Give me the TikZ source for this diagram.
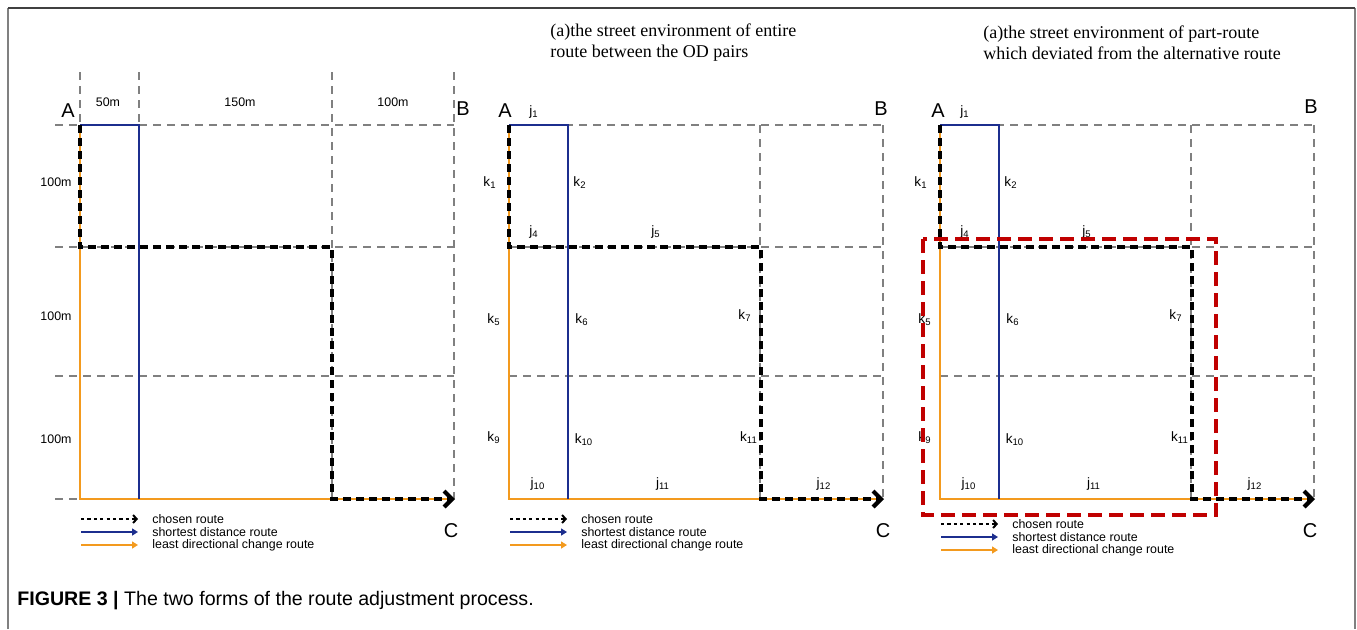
\documentclass[tikz,border=0pt]{standalone}
\usepackage{fontspec}
\setmainfont{Liberation Serif}
\setsansfont{Liberation Sans}
\usetikzlibrary{arrows.meta}

\definecolor{routeblue}{HTML}{1C2E8E}
\definecolor{routeorange}{HTML}{F39A1E}
\definecolor{gridgrey}{HTML}{808080}
\definecolor{boxred}{HTML}{C00000}

\tikzset{
  gridline/.style={gridgrey, line width=0.55pt, dash pattern=on 4pt off 3pt},
  shortest/.style={routeblue, line width=1.1pt},
  leastturn/.style={routeorange, line width=1.4pt},
  chosen/.style={black, line width=2.1pt, dash pattern=on 4pt off 2.5pt},
  lbl/.style={font=\sffamily\fontsize{6.2}{7}\selectfont, inner sep=0pt},
  street/.style={font=\sffamily\fontsize{6.8}{8}\selectfont, inner sep=0pt},
  corner/.style={font=\sffamily\fontsize{10}{12}\selectfont, inner sep=0pt},
  ttl/.style={font=\fontsize{9}{10.5}\selectfont, align=left, anchor=west, inner sep=0pt},
}

\begin{document}
\begin{tikzpicture}[x=0.5pt,y=-0.5pt]
  \useasboundingbox (0,0) rectangle (1357,629);
  % frame
  \draw[gridgrey, line width=1pt] (8,629) -- (8,8) (1355,8) -- (1355,629);
  \draw[black!75, line width=1pt] (8,8) -- (1355,8);

  % titles
  \node[ttl] (ttl2) at (550,42.5) {(a)the street environment of entire\\route between the OD pairs};
  \node[ttl] (ttl3) at (983,42.5) {(a)the street environment of part-route\\which deviated from the alternative route};

  % panel 1 grid
  \draw[gridline] (55,125) -- (454,125);
  \draw[gridline] (55,247) -- (454,247);
  \draw[gridline] (55,376) -- (454,376);
  \draw[gridline] (55,499) -- (80,499);
  \draw[gridline] (80,72) -- (80,125);
  \draw[gridline] (139,72) -- (139,125);
  \draw[gridline] (332,72) -- (332,499);
  \draw[gridline] (454,72) -- (454,499);
  \node[lbl] (d50) at (108,102) {50m};
  \node[lbl] (d150) at (240,102) {150m};
  \node[lbl] (d100) at (393,102) {100m};
  \node[lbl] (h1) at (56,182) {100m};
  \node[lbl] (h2) at (56,316) {100m};
  \node[lbl] (h3) at (56,439) {100m};

  % panels 2 and 3 grid and street labels
  \foreach \p/\dx in {2/429,3/860} {
    \begin{scope}[shift={(\dx,0)}]
      \draw[gridline] (80,125) -- (454,125);
      \draw[gridline] (80,247) -- (454,247);
      \draw[gridline] (80,376) -- (454,376);
      \draw[gridline] (331,125) -- (331,499);
      \draw[gridline] (454,125) -- (454,499);
      \foreach \l/\s/\x/\y in {j/1/105/112, k/1/61/183, k/2/151/183, j/4/105/232,
          j/5/227/232, k/5/65/320, k/6/153/320, k/7/316/316, k/9/65/438,
          k/10/155/440, k/11/320/438, j/10/109/484, j/11/234/484, j/12/395/484}
        \node[street] (\l\s-\p) at (\x,\y) {\l\textsubscript{\s}};
    \end{scope}
  }

  % routes and legend
  \foreach \p/\dx/\dy in {1/0/0,2/429/0,3/860/5} {
    \begin{scope}[shift={(\dx,0)}]
      \draw[leastturn] (80,125) -- (80,499) -- (452,499);
      \draw[shortest] (80,125) -- (139,125) -- (139,499);
      \draw[chosen, -{Straight Barb[length=4pt,width=8pt]}] (80,125) -- (80,247) -- (332,247) -- (332,499) -- (455,499);
      \coordinate (ka\p) at (81,519+\dy);
      \coordinate (kb\p) at (81,532+\dy);
      \coordinate (kc\p) at (81,545+\dy);
      \node[lbl, anchor=west] (ta\p) at (152,519+\dy) {chosen route};
      \node[lbl, anchor=west] (tb\p) at (152,532+\dy) {shortest distance route};
      \node[lbl, anchor=west] (tc\p) at (152,545+\dy) {least directional change route};
      \draw[black, line width=1pt, dash pattern=on 1.6pt off 1.6pt, -{Straight Barb[length=1.8pt,width=4pt]}] (ka\p) -- ++(57,0);
      \draw[routeblue, line width=1pt, -{Triangle[length=3pt,width=3.5pt]}] (kb\p) -- ++(57,0);
      \draw[routeorange, line width=1pt, -{Triangle[length=3pt,width=3.5pt]}] (kc\p) -- ++(57,0);
    \end{scope}
  }

  % deviated part of the route
  \draw[boxred, line width=2pt, dash pattern=on 7pt off 3.5pt] (923,239) rectangle (1216,515);

  % end points
  \node[corner] (A1) at (68,111) {A};
  \node[corner] (B1) at (463,109) {B};
  \node[corner] (C1) at (451,531) {C};
  \node[corner] (A2) at (505,111) {A};
  \node[corner] (B2) at (881,109) {B};
  \node[corner] (C2) at (883,531) {C};
  \node[corner] (A3) at (938,111) {A};
  \node[corner] (B3) at (1311,107) {B};
  \node[corner] (C3) at (1310,531) {C};

  % caption
  \node[anchor=west, inner sep=0pt, font=\sffamily\fontsize{9.8}{11}\selectfont] (cap) at (17,601)
    {\textbf{FIGURE 3 |} The two forms of the route adjustment process.};
\end{tikzpicture}
\end{document}
